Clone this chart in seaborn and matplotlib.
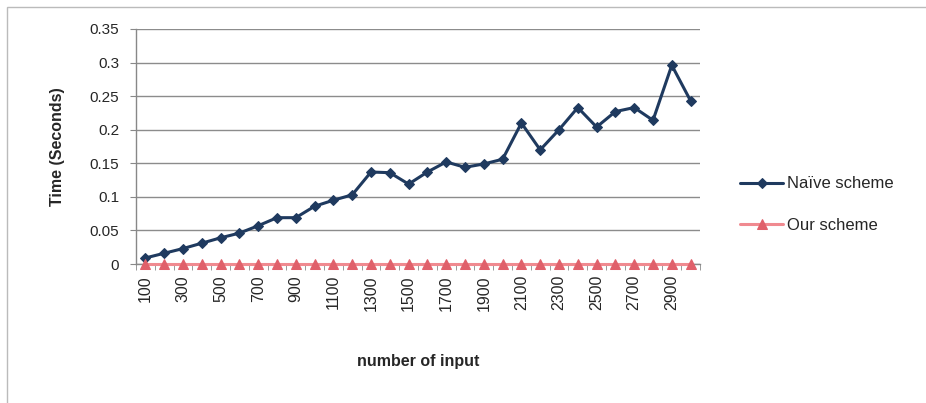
import numpy as np
import pandas as pd
import seaborn as sns
import matplotlib.pyplot as plt
from matplotlib.patches import Rectangle

# valores
n_input = list(range(100, 3100, 100))
naive = [0.009, 0.016, 0.023, 0.031, 0.039, 0.046, 0.057, 0.069, 0.069, 0.086,
         0.095, 0.103, 0.137, 0.136, 0.119, 0.137, 0.152, 0.144, 0.149, 0.156,
         0.210, 0.170, 0.200, 0.233, 0.204, 0.227, 0.233, 0.214, 0.296, 0.243]
ours = [0.0005] * 30
y_ticks = [0, 0.05, 0.1, 0.15, 0.2, 0.25, 0.3, 0.35]
y_tick_labels = ['0', '0.05', '0.1', '0.15', '0.2', '0.25', '0.3', '0.35']

df = pd.DataFrame({
    'pos': list(range(len(n_input))) * 2,
    'time': naive + ours,
    'scheme': ['Naïve scheme'] * len(naive) + ['Our scheme'] * len(ours),
})

sns.set_style('white')
plt.rcParams['font.family'] = ['Liberation Sans', 'DejaVu Sans']

fig = plt.figure(figsize=(9.26, 4.03), dpi=100)
ax = fig.add_axes([136 / 926, 1 - 264 / 403, 564 / 926, 235 / 403])

sns.lineplot(data=df[df.scheme == 'Naïve scheme'], x='pos', y='time', ax=ax,
             color='#1F3A5F', marker='D', markersize=5, linewidth=2.2,
             markeredgecolor='#1F3A5F', label='Naïve scheme')
sns.lineplot(data=df[df.scheme == 'Our scheme'], x='pos', y='time', ax=ax,
             color='#F08A90', marker='^', markersize=7.5, linewidth=2.2,
             markerfacecolor='#E0606A', markeredgecolor='#E0606A', label='Our scheme')
for ln in ax.lines:
    ln.set_clip_on(False)
    ln.set_zorder(5)

ax.set_xlim(-0.5, len(n_input) - 0.5)
ax.set_ylim(0, 0.35)
ax.set_yticks(y_ticks)
ax.set_yticklabels(y_tick_labels, fontsize=11)
ax.set_xticks(list(range(0, len(n_input), 2)))
ax.set_xticklabels([str(v) for v in n_input[::2]], rotation=90, fontsize=11.5)
ax.set_xticks([i - 0.5 for i in range(len(n_input) + 1)], minor=True)
ax.tick_params(axis='x', which='major', length=0, pad=8)
ax.tick_params(axis='x', which='minor', length=4, color='#888888', direction='out', bottom=True)
ax.tick_params(axis='y', length=4, color='#888888', direction='out', left=True, pad=8)

ax.yaxis.grid(True, color='#8C8C8C', linewidth=1)
ax.xaxis.grid(False)
for s in ['top', 'right']:
    ax.spines[s].set_visible(False)
for s in ['left', 'bottom']:
    ax.spines[s].set_color('#888888')
    ax.spines[s].set_linewidth(1)

ax.set_xlabel('number of input', fontsize=11.5, fontweight='bold', labelpad=31)
ax.set_ylabel('Time (Seconds)', fontsize=11.5, fontweight='bold', labelpad=18)

ax.legend_.remove()
h, l = ax.get_legend_handles_labels()
fig.legend(h, l, loc='center left', bbox_to_anchor=(725 / 926, 0.492), frameon=False,
           fontsize=12, labelspacing=1.6, handlelength=2.6, handletextpad=0.2)

fig.patches.append(Rectangle((7 / 926, -0.01), 1.0, 1 - 7 / 403 + 0.01,
                             transform=fig.transFigure, fill=False,
                             edgecolor='#BBBBBB', linewidth=1))

fig.savefig('out.png', dpi=100)
